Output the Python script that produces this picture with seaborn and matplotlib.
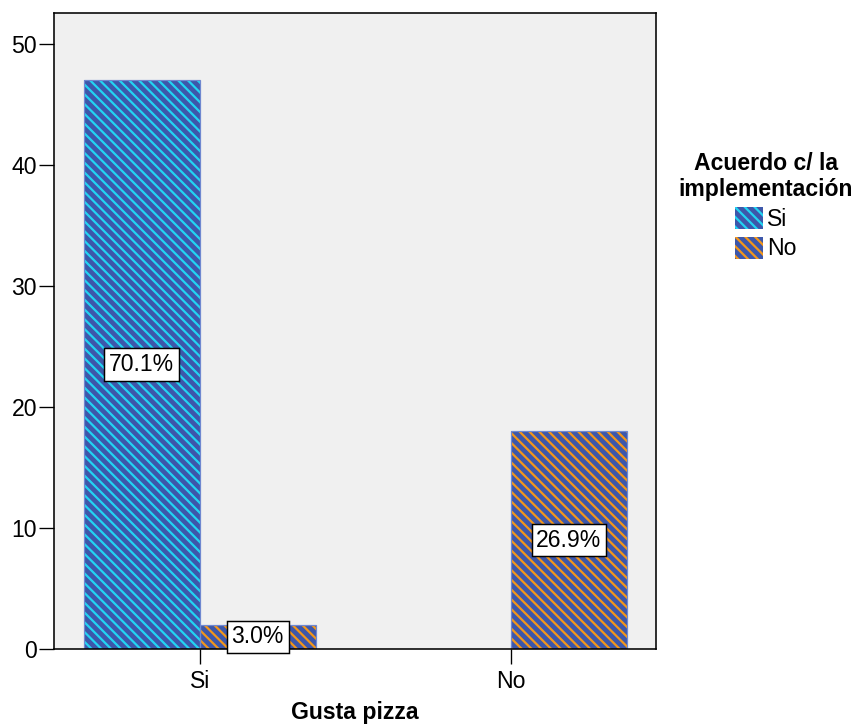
import numpy as np
import pandas as pd
import matplotlib
matplotlib.use("Agg")
import matplotlib.pyplot as plt
import seaborn as sns
from matplotlib.patches import Patch, Rectangle

# ---- data ----
gusta = ["Si", "Si", "No"]
acuerdo = ["Si", "No", "No"]
counts = [47, 2, 18]
pct_labels = ["70.1%", "3.0%", "26.9%"]
cat_order = ["Si", "No"]
hue_order = ["Si", "No"]
yticks = [0, 10, 20, 30, 40, 50]

df = pd.DataFrame({"Gusta pizza": gusta, "Acuerdo": acuerdo, "n": counts})

sns.set_theme(style="white")
plt.rcParams["font.family"] = ["Liberation Sans", "DejaVu Sans"]
plt.rcParams["hatch.linewidth"] = 1.8
for k in ["text.color", "axes.labelcolor", "xtick.color", "ytick.color"]:
    plt.rcParams[k] = "black"

DPI = 88
W, H = 856, 724
fig = plt.figure(figsize=(W / DPI, H / DPI), dpi=DPI)
ax = fig.add_axes([54 / W, 1 - 649 / H, (656 - 54) / W, (649 - 13) / H])

face = "#3d57aa"
hatch_cols = {"Si": "#22d4f2", "No": "#f3961a"}
outline = "#6f88d0"
HATCH = "\\\\\\"
FS = 18.8

sns.barplot(data=df, x="Gusta pizza", y="n", hue="Acuerdo",
            order=cat_order, hue_order=hue_order, width=0.746, gap=0,
            dodge=True, palette={"Si": face, "No": face}, ax=ax,
            legend=False, errorbar=None)

ax.set_facecolor("#f0f0f0")
ax.set_xlim(-0.468, 1.466)
ax.set_ylim(0, 52.55)

bars = [p for p in ax.patches if isinstance(p, Rectangle) and p.get_height() > 0]
bars_sorted = sorted(bars, key=lambda p: p.get_x())
hue_for_bar = ["Si", "No", "No"]
for p, hname, lab in zip(bars_sorted, hue_for_bar, pct_labels):
    p.set_facecolor(face)
    p.set_edgecolor(hatch_cols[hname])
    p.set_hatch(HATCH)
    p.set_linewidth(0)
    ax.add_patch(Rectangle(p.get_xy(), p.get_width(), p.get_height(),
                           fill=False, edgecolor=outline, linewidth=1.0,
                           zorder=p.get_zorder() + 0.1))
    ax.text(p.get_x() + p.get_width() / 2, p.get_height() / 2, lab,
            ha="center", va="center", fontsize=FS, color="black", zorder=5,
            bbox=dict(boxstyle="square,pad=0.2", facecolor="white",
                      edgecolor="black", linewidth=1.2))

ax.set_yticks(yticks)
ax.set_xlabel("Gusta pizza", fontsize=FS, fontweight="bold", labelpad=7)
ax.set_ylabel("")
ax.tick_params(axis="both", which="major", direction="out", length=12,
               width=1.1, color="black", labelsize=FS, pad=2,
               bottom=True, left=True)
ax.tick_params(axis="x", pad=5)
for s in ax.spines.values():
    s.set_color("black")
    s.set_linewidth(1.3)
    s.set_visible(True)

handles = [Patch(facecolor=face, edgecolor=hatch_cols[h], hatch=HATCH,
                 linewidth=0) for h in hue_order]
leg = fig.legend(handles, hue_order, title="Acuerdo c/ la\nimplementación",
                 loc="upper center", bbox_to_anchor=(766 / W, 1 - 141 / H),
                 frameon=False, fontsize=FS, borderpad=0,
                 handlelength=1.2, handleheight=1.1, handletextpad=0.2,
                 labelspacing=0.25,
                 title_fontproperties={"weight": "bold", "size": FS})
leg.get_title().set_linespacing(1.15)
leg.get_title().set_multialignment("center")

fig.savefig("out.png", dpi=DPI)
